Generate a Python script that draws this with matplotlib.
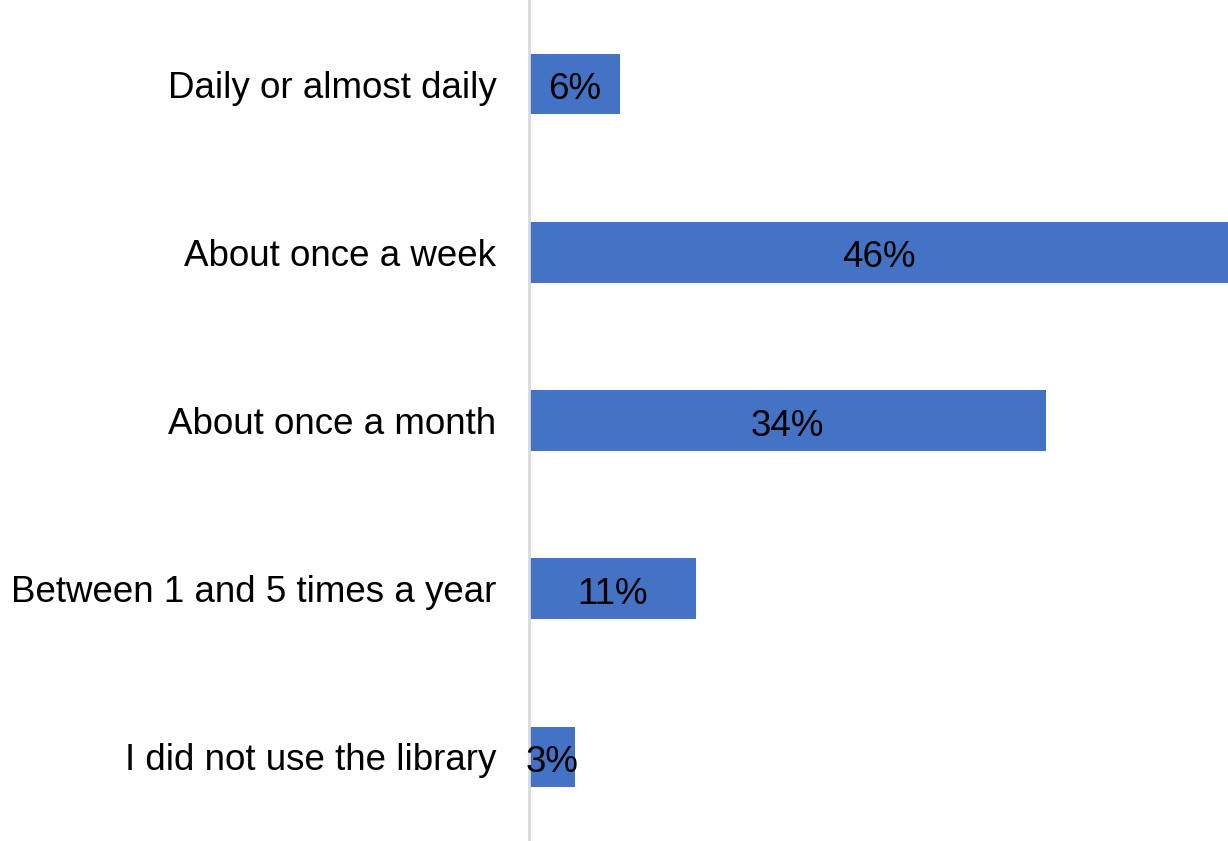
import matplotlib.pyplot as plt

plt.rcParams['font.family'] = ['Liberation Sans', 'DejaVu Sans']

categories = ["Daily or almost daily", "About once a week", "About once a month",
              "Between 1 and 5 times a year", "I did not use the library"]
values = [6, 46, 34, 11, 3]

fig = plt.figure(figsize=(12.28, 8.41), dpi=100)
ax = fig.add_axes([529 / 1228, 0, 699 / 1228, 1])

y = range(len(categories))
bars = ax.barh(y, values, height=0.36, color="#4472C4")

for b, v in zip(bars, values):
    ax.text(b.get_width() / 2, b.get_y() + b.get_height() / 2 + 0.01, f"{v}%",
            ha="center", va="center_baseline", fontsize=26.5, color="black")

ax.set_yticks(list(y))
ax.set_yticklabels(categories, fontsize=26.5)
ax.tick_params(axis="y", length=0, pad=23.5)
ax.set_xticks([])
ax.set_xlim(0, 46)
ax.set_ylim(len(categories) - 0.5, -0.5)

for s in ["top", "right", "bottom"]:
    ax.spines[s].set_visible(False)
ax.spines["left"].set_color("#d9d9d9")
ax.spines["left"].set_linewidth(2)

fig.savefig("out.png", dpi=100)
